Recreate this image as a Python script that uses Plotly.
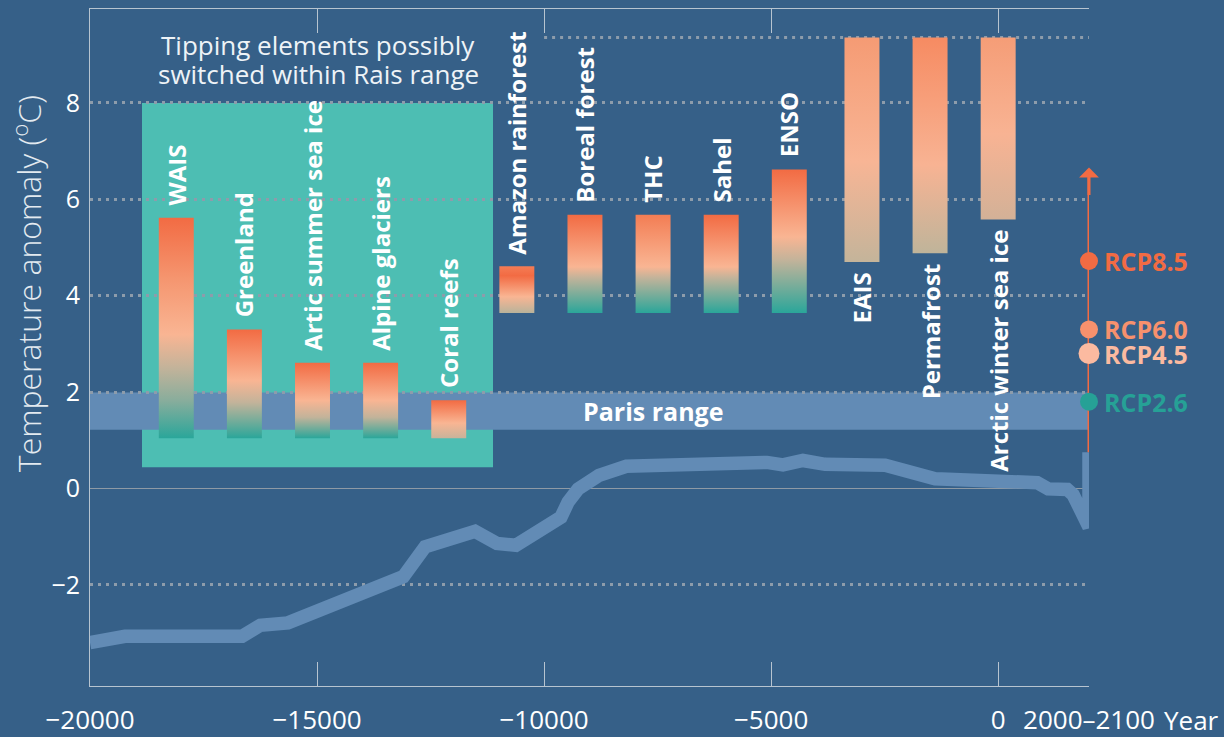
import plotly.graph_objects as go

# ---------------- data ----------------
# Tipping elements: centre year of each bar and the temperature-anomaly range (°C)
element_names = ["WAIS", "Greenland", "Artic summer sea ice", "Alpine glaciers", "Coral reefs",
                 "Amazon rainforest", "Boreal forest", "THC", "Sahel", "ENSO",
                 "EAIS", "Permafrost", "Arctic winter sea ice"]
element_year = [-18100, -16600, -15100, -13600, -12100, -10600, -9100, -7600, -6100, -4600,
                -3000, -1500, 0]
element_low = [1.04, 1.04, 1.04, 1.04, 1.04, 3.64, 3.64, 3.64, 3.64, 3.64, 4.70, 4.88, 5.58]
element_high = [5.62, 3.30, 2.61, 2.61, 1.83, 4.61, 5.68, 5.68, 5.68, 6.62, 9.36, 9.36, 9.36]
label_side = ["above"] * 10 + ["below"] * 3

# Reconstructed temperature anomaly since the last glacial maximum
temp_year = [-20000, -19230, -16650, -16250, -15640, -13100, -12620, -11520, -11040, -10620,
             -9630, -9470, -9250, -8790, -8190, -6560, -5090, -4740, -4300, -3810,
             -2490, -1390, 860, 1100, 1520, 1650, 2000, 2000]
temp_anom = [-3.20, -3.07, -3.07, -2.84, -2.79, -1.83, -1.21, -0.89, -1.14, -1.18,
             -0.60, -0.28, -0.01, 0.27, 0.46, 0.51, 0.54, 0.49, 0.58, 0.50,
             0.48, 0.20, 0.12, -0.01, -0.02, -0.13, -0.80, 0.75]

# Warming by 2100 under the RCP scenarios
rcp_names = ["RCP8.5", "RCP6.0", "RCP4.5", "RCP2.6"]
rcp_values = [4.72, 3.30, 2.80, 1.80]
rcp_year = 2000
rcp_arrow_range = [0.75, 6.66]

# Ranges
paris_range = [1.22, 1.99]
rais_years = [-18855, -11125]
rais_range = [0.44, 8.0]
upper_limit = 9.36

x_ticks = [-20000, -15000, -10000, -5000, 0, 2000]
x_tick_text = ["\u221220000", "\u221215000", "\u221210000", "\u22125000", "0", "2000\u20132100"]
y_ticks = [-2, 0, 2, 4, 6, 8]
y_range = [-4.1, 9.95]

# ---------------- styling ----------------
BG = "#366088"
BLUE = "#628bb5"
RAIS = "#4dbeb3"
ORANGE = "#f26b43"
PEACH = "#f9b593"
TAN = "#c3b39a"
TEAL = "#2aa69a"
GRID = "#8d9cab"
AXIS = "#b7c4d0"
FONT = "Open Sans"
BAR_WIDTH = 770  # years

bar_scales = [
    [[0, TEAL], [0.17, "#88ad9c"], [0.32, TAN], [0.47, PEACH], [0.72, "#f59670"], [1, ORANGE]],
    [[0, TEAL], [0.33, TAN], [0.53, PEACH], [1, ORANGE]],
    [[0, TEAL], [0.28, TAN], [0.5, PEACH], [1, ORANGE]],
    [[0, TEAL], [0.28, TAN], [0.5, PEACH], [1, ORANGE]],
    [[0, "#c8b39a"], [0.4, PEACH], [1, ORANGE]],
    [[0, "#b8b39b"], [0.35, PEACH], [0.8, ORANGE], [1, "#f47c55"]],
    [[0, TEAL], [0.36, TAN], [0.47, PEACH], [1, ORANGE]],
    [[0, TEAL], [0.36, TAN], [0.47, PEACH], [1, "#f37d54"]],
    [[0, TEAL], [0.36, TAN], [0.47, PEACH], [1, ORANGE]],
    [[0, TEAL], [0.37, TAN], [0.53, PEACH], [1, ORANGE]],
    [[0, "#c4b49a"], [0.45, "#f8b595"], [1, "#f59b74"]],
    [[0, "#bfb49a"], [0.41, "#f8b393"], [1, "#f68b62"]],
    [[0, "#d3b197"], [0.47, "#f8b393"], [1, "#f59d77"]],
]

rcp_colors = [ORANGE, "#f7916d", "#fbbaa0", "#26a196"]
rcp_sizes = [18, 18, 21, 18]

fig = go.Figure()

# Tipping-element bars with vertical colour gradients
for i, name in enumerate(element_names):
    x0 = element_year[i] - BAR_WIDTH / 2
    x1 = element_year[i] + BAR_WIDTH / 2
    lo, hi = element_low[i], element_high[i]
    fig.add_trace(go.Scatter(
        x=[x0, x1, x1, x0, x0], y=[lo, lo, hi, hi, lo],
        mode="lines", line=dict(width=0), fill="toself",
        fillgradient=dict(type="vertical", colorscale=bar_scales[i]),
        hoverinfo="skip", showlegend=False, name=name,
    ))
    if label_side[i] == "above":
        fig.add_annotation(x=element_year[i], y=hi, text=name, textangle=-90,
                           xanchor="center", yanchor="bottom", yshift=10, showarrow=False,
                           font=dict(family=FONT, size=24, color="white", weight="bold"))
    else:
        fig.add_annotation(x=element_year[i], y=lo, text=name, textangle=-90,
                           xanchor="center", yanchor="top", yshift=-8, showarrow=False,
                           font=dict(family=FONT, size=24, color="white", weight="bold"))

# Temperature curve
fig.add_trace(go.Scatter(
    x=temp_year, y=temp_anom, mode="lines",
    line=dict(color=BLUE, width=13.5), cliponaxis=False,
    hoverinfo="skip", showlegend=False,
))

# RCP projection stem (arrowhead added as an annotation below)
fig.add_trace(go.Scatter(
    x=[rcp_year, rcp_year], y=[rcp_arrow_range[0], rcp_arrow_range[1] - 0.2], mode="lines",
    line=dict(color=ORANGE, width=3),
    cliponaxis=False, hoverinfo="skip", showlegend=False,
))
fig.add_annotation(x=rcp_year, y=rcp_arrow_range[1], ax=rcp_year, ay=rcp_arrow_range[1] - 0.6,
                   axref="x", ayref="y", xref="x", yref="y", text="", showarrow=True,
                   arrowhead=1, arrowsize=1.1, arrowwidth=3, arrowcolor=ORANGE)

# RCP scenario points
fig.add_trace(go.Scatter(
    x=[rcp_year] * len(rcp_values), y=rcp_values, mode="markers",
    marker=dict(color=rcp_colors, size=rcp_sizes, opacity=1, line=dict(width=0)),
    cliponaxis=False, hoverinfo="skip", showlegend=False,
))
for name, val, col in zip(rcp_names, rcp_values, rcp_colors):
    fig.add_annotation(x=rcp_year, y=val, text=name, xanchor="left", yanchor="middle",
                       xshift=13, showarrow=False,
                       font=dict(family=FONT, size=25, color=col, weight="bold"))

# Background regions
fig.add_shape(type="rect", x0=rais_years[0], x1=rais_years[1], y0=rais_range[0], y1=rais_range[1],
              fillcolor=RAIS, line=dict(width=0), layer="below")
fig.add_shape(type="rect", x0=x_ticks[0], x1=x_ticks[-1], y0=paris_range[0], y1=paris_range[1],
              fillcolor=BLUE, line=dict(width=0), layer="below")
fig.add_shape(type="line", x0=-10000, x1=x_ticks[-1], y0=upper_limit, y1=upper_limit,
              line=dict(color=GRID, width=3, dash="3px,5px"), layer="between")

fig.add_annotation(x=-7600, y=sum(paris_range) / 2, text="Paris range", showarrow=False,
                   font=dict(family=FONT, size=25, color="white", weight="bold"))

fig.add_annotation(x=-14975, y=9.2, text="Tipping elements possibly", showarrow=False,
                   font=dict(family=FONT, size=26, color="#eef3f7"))
fig.add_annotation(x=-14975, y=8.6, text="switched within Rais range", showarrow=False,
                   font=dict(family=FONT, size=26, color="#eef3f7"))

# Axis titles
fig.add_annotation(xref="paper", yref="paper", x=1.0, y=0, xanchor="left", yanchor="middle",
                   xshift=73, yshift=-34, text="Year", showarrow=False,
                   font=dict(family=FONT, size=26, color="white"))
fig.add_annotation(xref="paper", yref="y", x=0, y=4.24, xanchor="center", yanchor="middle",
                   xshift=-63, textangle=-90, text="Temperature anomaly (<sup>o</sup>C)",
                   showarrow=False, font=dict(family=FONT, size=32, color="#e3eaf0", weight=300))

fig.update_xaxes(
    range=[x_ticks[0], x_ticks[-1]], tickvals=x_ticks, ticktext=x_tick_text,
    ticks="inside", ticklen=24, tickcolor=AXIS, tickwidth=1,
    showline=True, linecolor=AXIS, linewidth=1, mirror="ticks",
    showgrid=False, zeroline=False, ticklabelstandoff=11, automargin=False,
    tickfont=dict(family=FONT, size=26, color="white"),
)
fig.update_yaxes(
    range=y_range, tickvals=y_ticks, ticks="",
    showline=True, linecolor=AXIS, linewidth=1,
    showgrid=True, gridcolor=GRID, gridwidth=3, griddash="3px,5px",
    zeroline=True, zerolinecolor="#8e9aa5", zerolinewidth=1, automargin=False,
    tickfont=dict(family=FONT, size=25, color="white"), ticklabelstandoff=4,
)

fig.update_layout(
    width=1224, height=737,
    margin=dict(l=90, r=135, t=9, b=51),
    paper_bgcolor=BG, plot_bgcolor=BG,
    showlegend=False,
    font=dict(family=FONT),
)

fig.write_html("out.html")
